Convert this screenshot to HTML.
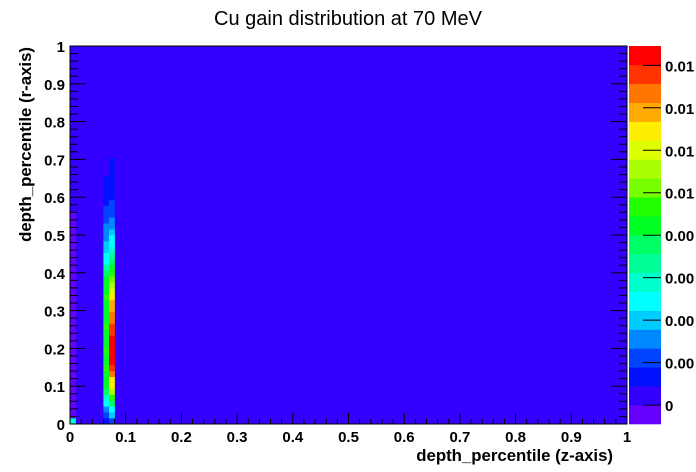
<!DOCTYPE html>
<html><head><meta charset="utf-8"><style>
html,body{margin:0;padding:0;background:#fff;}
svg{display:block;}
text{font-family:"Liberation Sans",Arial,sans-serif;}
</style></head><body>
<svg id="chart" width="696" height="472" viewBox="0 0 696 472" xmlns="http://www.w3.org/2000/svg">
<text x="348" y="25" text-anchor="middle" font-size="20" fill="#000">Cu gain distribution at 70 MeV</text>
<rect x="70" y="46" width="557" height="378" fill="#3300ff"/>
<g id="cells"></g>
<g id="axes"></g>
<g id="cbar"></g>
<text x="613" y="461" text-anchor="end" font-size="16.8" font-weight="bold">depth_percentile (z-axis)</text>
<text transform="translate(31,47) rotate(-90)" text-anchor="end" font-size="16.8" font-weight="bold">depth_percentile (r-axis)</text>
</svg>
<script>
// Data
const xBinCount = 100;
const yBinCount = 64;
const columnXBins = [0, 6, 7];
const col0Values = [0.0058,-0.0005,-0.0005,-0.0005,-0.0005,-0.0005,-0.0005,-0.0005,-0.0005,-0.0005,-0.0005,-0.0005,-0.0005,-0.0005,-0.0005,-0.0005,-0.0005,-0.0005,-0.0005,-0.0005,-0.0005,-0.0005,-0.0005,-0.0005,-0.0005,-0.0005,-0.0005,-0.0005,-0.0005,-0.0005,-0.0005,-0.0005,-0.0005,-0.0005,-0.0005,-0.0005];
const col6Values = [0.0013,0.0022,0.0031,0.0049,0.0058,0.0076,0.0085,0.0085,0.0085,0.0093,0.0085,0.0085,0.0093,0.0085,0.0085,0.0085,0.0093,0.0085,0.0085,0.0085,0.0085,0.0093,0.0085,0.0085,0.0085,0.0076,0.0067,0.0049,0.0049,0.0040,0.0040,0.0031,0.0031,0.0031,0.0022,0.0022,0.0022,0.0013,0.0013,0.0013,0.0013,0.0013];
const col7Values = [0.0022,0.0040,0.0049,0.0076,0.0093,0.0111,0.0129,0.0129,0.0147,0.0156,0.0165,0.0165,0.0165,0.0165,0.0165,0.0156,0.0156,0.0147,0.0147,0.0138,0.0138,0.0129,0.0120,0.0111,0.0102,0.0093,0.0085,0.0076,0.0067,0.0058,0.0049,0.0049,0.0040,0.0031,0.0031,0.0022,0.0022,0.0022,0.0013,0.0013,0.0013,0.0013,0.0013,0.0013,0.0013];
const xTickLabels = ["0","0.1","0.2","0.3","0.4","0.5","0.6","0.7","0.8","0.9","1"];
const yTickLabels = ["0","0.1","0.2","0.3","0.4","0.5","0.6","0.7","0.8","0.9","1"];
const zTickValues = [0,0.002,0.004,0.006,0.008,0.010,0.012,0.014,0.016];
const zTickLabels = ["0","0.00","0.00","0.00","0.00","0.01","0.01","0.01","0.01"];
const palette = ["#6600ff","#3300ff","#0011ff","#0044ff","#0088ff","#00ccff","#00ffff","#00ffcc","#00ff99","#00ff66","#00ff22","#22ff00","#77ff00","#aaff00","#ddff00","#ffee00","#ffaa00","#ff7700","#ff3300","#ff0000"];
const zMin = -0.00089, zMax = 0.01691;

const NS = "http://www.w3.org/2000/svg";
const X0 = 70, X1 = 627, Y0 = 424, Y1 = 46;
const xs = v => X0 + (X1 - X0) * v;
const ys = v => Y0 - (Y0 - Y1) * v;
const zs = v => Y0 - (Y0 - Y1) * (v - zMin) / (zMax - zMin);
function colorOf(v){let i=Math.floor((v-zMin)/(zMax-zMin)*palette.length);i=Math.max(0,Math.min(palette.length-1,i));return palette[i];}
function mk(tag, attrs, parent){const e=document.createElementNS(NS,tag);for(const k in attrs)e.setAttribute(k,attrs[k]);parent.appendChild(e);return e;}

const cells = document.getElementById('cells');
const cols = [col0Values, col6Values, col7Values];
cols.forEach((vals, ci) => {
  const xb = columnXBins[ci];
  vals.forEach((v, k) => {
    const x = xs(xb / xBinCount), x2 = xs((xb + 1) / xBinCount);
    const yTop = ys((k + 1) / yBinCount), yBot = ys(k / yBinCount);
    const r = mk('rect', {x: x, y: yTop, width: x2 - x + 0.3, height: yBot - yTop + 0.3, fill: colorOf(v)}, cells);
    
    
  });
});

const axes = document.getElementById('axes');
mk('rect', {x: X0, y: Y1, width: X1 - X0, height: Y0 - Y1, fill: 'none', stroke: '#000', 'stroke-width': 1}, axes);
for (let i = 0; i <= 50; i++) {
  const v = i / 50, major = i % 5 === 0;
  mk('line', {x1: xs(v), x2: xs(v), y1: Y0, y2: Y0 - (major ? 11 : 5), stroke: '#000'}, axes);
  mk('line', {x1: X0, x2: X0 + (major ? 16 : 8), y1: ys(v), y2: ys(v), stroke: '#000'}, axes);
  mk('line', {x1: X1, x2: X1 - (major ? 16 : 8), y1: ys(v), y2: ys(v), stroke: '#000'}, axes);
}
xTickLabels.forEach((l, i) => {
  const t = mk('text', {x: xs(i / 10), y: 442, 'text-anchor': 'middle', 'font-size': 15, 'font-weight': 'bold'}, axes);
  t.textContent = l;
  
  
});
yTickLabels.forEach((l, i) => {
  const t = mk('text', {x: 65, y: ys(i / 10) + 6, 'text-anchor': 'end', 'font-size': 15, 'font-weight': 'bold'}, axes);
  t.textContent = l;
  
  
});

const cb = document.getElementById('cbar');
const CX0 = 629, CX1 = 661;
palette.forEach((c, i) => {
  const lo = zMin + (zMax - zMin) * i / palette.length, hi = zMin + (zMax - zMin) * (i + 1) / palette.length;
  const r = mk('rect', {x: CX0, y: zs(hi), width: CX1 - CX0, height: zs(lo) - zs(hi) + 0.3, fill: c}, cb);
  
  
});
zTickValues.forEach((v, i) => {
  mk('line', {x1: CX1 - 18, x2: CX1, y1: zs(v), y2: zs(v), stroke: '#000'}, cb);
  const t = mk('text', {x: 665, y: zs(v) + 6, 'font-size': 15, 'font-weight': 'bold'}, cb);
  t.textContent = zTickLabels[i];
  
  
});
</script>
</body></html>
